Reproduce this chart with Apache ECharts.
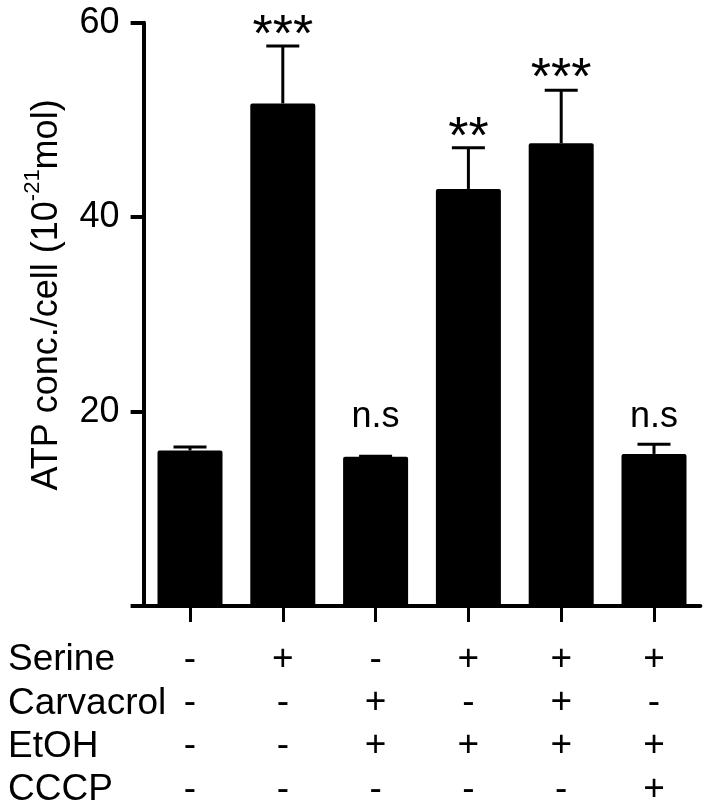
<!DOCTYPE html>
<html>
<head>
<meta charset="utf-8">
<script src="https://cdn.jsdelivr.net/npm/echarts/dist/echarts.min.js"></script>
<style>
html,body{margin:0;padding:0;background:#fff;}
#chart{width:714px;height:811px;}
</style>
</head>
<body>
<div id="chart"></div>
<script>
// ---- data ----
const categories = ['Control', 'Serine', 'Carvacrol+EtOH', 'Serine+EtOH', 'Serine+Carvacrol+EtOH', 'Serine+EtOH+CCCP'];
const atpValues = [16.0, 51.7, 15.35, 42.9, 47.6, 15.65];
const atpErrors = [0.35, 5.9, 0.05, 4.25, 5.45, 1.0];
const significance = ['', '***', 'n.s', '**', '***', 'n.s'];
const significanceLevel = [null, 58.6, 19.4, 48.05, 54.1, 19.4];
const rowNames = ['Serine', 'Carvacrol', 'EtOH', 'CCCP'];
const serine    = ['-', '+', '-', '+', '+', '+'];
const carvacrol = ['-', '-', '+', '-', '+', '-'];
const etoh      = ['-', '-', '+', '+', '+', '+'];
const cccp      = ['-', '-', '-', '-', '-', '+'];
const yTicks = [0, 20, 40, 60];
const yTitle = ['ATP conc./cell (10', '-21', 'mol)'];

const FONT = "'Liberation Sans', Arial, Helvetica, sans-serif";
const chart = echarts.init(document.getElementById('chart'), null, {renderer: 'canvas'});

const rows = [serine, carvacrol, etoh, cccp];

const option = {
  animation: false,
  backgroundColor: '#fff',
  textStyle: {fontFamily: FONT, color: '#000'},
  grid: {left: 143.6, right: 13.6, top: 22.7, bottom: 104.3, containLabel: false},
  xAxis: {
    type: 'category',
    data: categories,
    axisLine: {lineStyle: {color: '#000', width: 4}},
    axisTick: {show: true, alignWithLabel: true, length: 16, lineStyle: {color: '#000', width: 3}},
    axisLabel: {
      interval: 0,
      margin: 31.7,
      fontSize: 37,
      lineHeight: 43.3,
      color: '#000',
      fontFamily: FONT,
      formatter: function (val, idx) {
        return rows.map(function (r) { return r[idx]; }).join('\n');
      }
    },
    splitLine: {show: false}
  },
  yAxis: {
    type: 'value',
    min: yTicks[0],
    max: yTicks[yTicks.length - 1],
    interval: 20,
    axisLine: {show: true, lineStyle: {color: '#000', width: 4}},
    axisTick: {show: true, length: 13, lineStyle: {color: '#000', width: 4}},
    axisLabel: {
      margin: 24,
      fontSize: 36,
      color: '#000',
      fontFamily: FONT,
      formatter: function (v) { return v === 0 ? '' : String(v); }
    },
    splitLine: {show: false}
  },
  graphic: rowNames.map(function (name, i) {
    return {
      type: 'text',
      x: 8,
      y: 660 + i * 43.3,
      style: {text: name, fontSize: 37, fontFamily: FONT, fill: '#000', verticalAlign: 'middle'}
    };
  }).concat([{
    type: 'text',
    x: 47,
    y: 295,
    rotation: Math.PI / 2,
    style: {
      text: '{m|' + yTitle[0] + '}{s|' + yTitle[1] + '}{m|' + yTitle[2] + '}',
      align: 'center',
      verticalAlign: 'middle',
      fill: '#000',
      rich: {
        m: {fontSize: 36, lineHeight: 50, fontFamily: FONT, fill: '#000'},
        s: {fontSize: 22, lineHeight: 22, verticalAlign: 'top', fontFamily: FONT, fill: '#000'}
      }
    }
  }]),
  series: [
    {
      type: 'bar',
      data: atpValues,
      barWidth: 65,
      itemStyle: {color: '#000', borderRadius: 2},
      z: 2
    },
    {
      type: 'custom',
      z: 3,
      data: atpValues.map(function (v, i) { return [i, v, atpErrors[i]]; }),
      renderItem: function (params, api) {
        const x = api.value(0), v = api.value(1), e = api.value(2);
        const top = api.coord([x, v]);
        const cap = api.coord([x, v + e]);
        const hw = 16.5;
        return {
          type: 'group',
          children: [
            {type: 'line', shape: {x1: top[0], y1: top[1], x2: cap[0], y2: cap[1]}, style: {stroke: '#000', lineWidth: 3}},
            {type: 'line', shape: {x1: cap[0] - hw, y1: cap[1], x2: cap[0] + hw, y2: cap[1]}, style: {stroke: '#000', lineWidth: 3}}
          ]
        };
      }
    },
    {
      type: 'custom',
      z: 4,
      data: significanceLevel.map(function (lv, i) { return [i, lv === null ? 0 : lv]; }),
      renderItem: function (params, api) {
        const i = params.dataIndex;
        const txt = significance[i];
        if (!txt) return null;
        const c = api.coord([api.value(0), api.value(1)]);
        const isStar = txt.indexOf('*') >= 0;
        return {
          type: 'text',
          x: c[0],
          y: c[1],
          style: {
            text: txt,
            fill: '#000',
            fontSize: isStar ? 52 : 36,
            fontFamily: FONT,
            align: 'center',
            verticalAlign: 'middle'
          }
        };
      }
    }
  ]
};
chart.setOption(option);
</script>
</body>
</html>
